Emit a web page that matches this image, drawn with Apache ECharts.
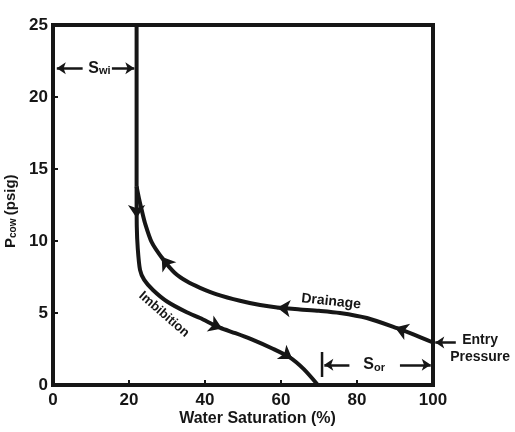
<!DOCTYPE html>
<html>
<head>
<meta charset="utf-8">
<script src="https://cdn.jsdelivr.net/npm/echarts@6/dist/echarts.min.js"></script>
<style>
html, body { margin: 0; padding: 0; background: #fff; }
#main { width: 515px; height: 432px; }
</style>
</head>
<body>
<div id="main"></div>
<script>
// capillary pressure curves
var stemSw = [22, 22];
var stemP = [25, 13.8];

var drainSw = [22, 22.6, 23.3, 24.2, 26, 28.9, 32, 35.2, 38.7, 43.1, 49.2, 54.5, 59, 65, 70, 75.5, 82.6, 90.5, 95, 100];
var drainP = [13.8, 13.0, 12.2, 11.25, 9.9, 8.75, 7.8, 7.2, 6.75, 6.3, 5.85, 5.55, 5.38, 5.25, 5.15, 5.0, 4.65, 3.95, 3.5, 2.95];

var imbSw = [22, 22.05, 22.3, 22.9, 24, 26.3, 30, 35.2, 38.7, 43.9, 48, 52, 58, 62.4, 66, 69.7];
var imbP = [13.8, 11, 9.5, 8.0, 7.3, 6.6, 5.8, 5.05, 4.65, 3.98, 3.6, 3.2, 2.5, 1.9, 1.1, 0];

// direction arrows on the curves: [fromSw, fromP, toSw, toP]
var curveArrows = [
  [92, 3.81, 90, 4.0],
  [61, 5.33, 59, 5.37],
  [30, 8.4, 28.6, 8.9],
  [22, 12.6, 22, 11.6],
  [42.5, 4.15, 44.5, 3.93],
  [61, 2.15, 63, 1.8]
];

// dimension arrows (Swi, Sor, entry pressure)
var dimArrows = [
  [7.8, 22, 1.0, 22],
  [15.5, 22, 21.4, 22],
  [78, 1.4, 71.4, 1.4],
  [91.3, 1.4, 99.4, 1.4],
  [106, 2.95, 100.6, 2.95]
];
var sorTick = [[70.8, 0.55], [70.8, 2.3]];

var xTicks = [0, 20, 40, 60, 80, 100];
var yTicks = [0, 5, 10, 15, 20, 25];

function pairs(a, b) {
  return a.map(function (v, i) { return [v, b[i]]; });
}
function segs(list) {
  return list.map(function (s) { return { coords: [[s[0], s[1]], [s[2], s[3]]] }; });
}

var ink = '#161616';
var font = '"Liberation Sans", Arial, sans-serif';

var chart = echarts.init(document.getElementById('main'));

var option = {
  backgroundColor: '#fff',
  animation: false,
  grid: { left: 53, right: 82, top: 25, bottom: 47, show: true, borderColor: ink, borderWidth: 4 },
  xAxis: {
    type: 'value', min: xTicks[0], max: xTicks[xTicks.length - 1], interval: 20,
    axisLine: { lineStyle: { color: ink, width: 4 } },
    axisTick: { inside: true, length: 5, lineStyle: { color: ink, width: 2 } },
    splitLine: { show: false },
    axisLabel: { color: ink, fontFamily: font, fontWeight: 'bold', fontSize: 17, margin: 7 }
  },
  yAxis: {
    type: 'value', min: yTicks[0], max: yTicks[yTicks.length - 1], interval: 5,
    axisLine: { lineStyle: { color: ink, width: 4 } },
    axisTick: { inside: true, length: 5, lineStyle: { color: ink, width: 2 } },
    splitLine: { show: false },
    axisLabel: { color: ink, fontFamily: font, fontWeight: 'bold', fontSize: 17, margin: 5 }
  },
  series: [
    {
      type: 'line', data: pairs(stemSw, stemP), symbol: 'none',
      lineStyle: { color: ink, width: 4 }
    },
    {
      name: 'Drainage', type: 'line', data: pairs(drainSw, drainP), symbol: 'none', smooth: 0.25,
      lineStyle: { color: ink, width: 4 }
    },
    {
      name: 'Imbibition', type: 'line', data: pairs(imbSw, imbP), symbol: 'none', smooth: 0.25,
      lineStyle: { color: ink, width: 4 }
    },
    {
      type: 'lines', coordinateSystem: 'cartesian2d', data: segs(curveArrows),
      symbol: ['none', 'arrow'], symbolSize: 13,
      lineStyle: { color: ink, width: 3, opacity: 1 }
    },
    {
      type: 'lines', coordinateSystem: 'cartesian2d', data: segs(dimArrows), clip: false,
      symbol: ['none', 'arrow'], symbolSize: 9,
      lineStyle: { color: ink, width: 2.5, opacity: 1 }
    },
    {
      type: 'line', data: sorTick, symbol: 'none',
      lineStyle: { color: ink, width: 2.5 }
    },
    {
      type: 'scatter', symbolSize: 0, clip: false, silent: true,
      itemStyle: { opacity: 1, color: ink },
      label: {
        show: true, position: 'inside', color: ink, opacity: 1, textBorderWidth: 0,
        fontFamily: font, fontWeight: 'bold',
        rich: {
          s: { fontSize: 16, fontWeight: 'bold', color: ink, fontFamily: font },
          sub: { fontSize: 11, fontWeight: 'bold', color: ink, fontFamily: font, verticalAlign: 'bottom', padding: [6, 0, 0, 0] }
        }
      },
      data: [
        { value: [12.2, 22], label: { formatter: '{s|S}{sub|wi}' } },
        { value: [84.5, 1.4], label: { formatter: '{s|S}{sub|or}' } },
        { value: [73.2, 5.8], label: { formatter: 'Drainage', fontSize: 14, rotate: -6 } },
        { value: [29.2, 4.9], label: { formatter: 'Imbibition', fontSize: 13, rotate: -41 } },
        { value: [112.4, 2.5], label: { formatter: 'Entry\nPressure', fontSize: 14, lineHeight: 17, align: 'center' } }
      ]
    }
  ],
  graphic: [
    {
      type: 'text', left: 'center', top: 411,
      x: 18,
      style: { text: 'Water Saturation (%)', fill: ink, font: 'bold 16px ' + font }
    },
    {
      type: 'text', x: 3, y: 248, rotation: Math.PI / 2,
      style: {
        text: '{p|P}{s|cow} {p|(psig)}', fill: ink,
        rich: {
          p: { fontSize: 15, fontWeight: 'bold', fontFamily: font, fill: ink },
          s: { fontSize: 10, fontWeight: 'bold', fontFamily: font, fill: ink, padding: [5, 0, 0, 0] }
        }
      }
    }
  ]
};

chart.setOption(option);
</script>
</body>
</html>
